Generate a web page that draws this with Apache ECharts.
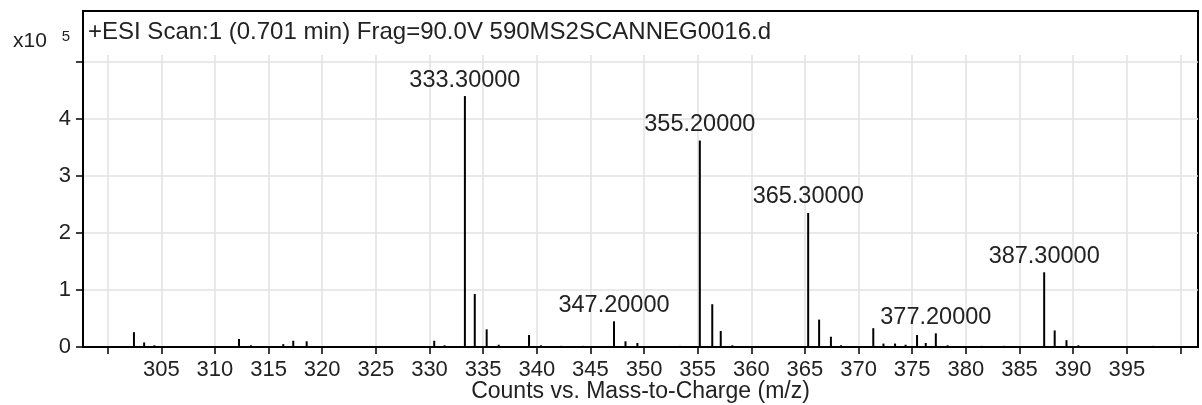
<!DOCTYPE html>
<html>
<head>
<meta charset="utf-8">
<script src="https://cdn.jsdelivr.net/npm/echarts@6/dist/echarts.min.js"></script>
<style>html,body{margin:0;padding:0;background:#fff;}#c{width:1202px;height:405px;}</style>
</head>
<body>
<div id="c"></div>
<script>
// ---- data (intensity in units of 10^5 counts) ----
const mzValues = [302.45, 303.4, 304.35, 312.24, 313.36, 316.37, 317.3, 318.55, 330.44, 331.4,
  333.3, 334.22, 335.33, 336.45, 339.28, 340.4, 342.28, 344.32, 347.2, 348.27,
  349.38, 353.35, 355.2, 356.36, 357.15, 358.23, 365.3, 366.32, 367.42, 368.36,
  371.37, 372.32, 373.4, 374.38, 375.45, 376.26, 377.2, 378.3, 381.48, 383.53,
  387.3, 388.28, 389.38, 390.49, 397.47];
const intensities = [0.26, 0.08, 0.03, 0.14, 0.03, 0.05, 0.11, 0.10, 0.11, 0.03,
  4.40, 0.93, 0.31, 0.04, 0.21, 0.03, 0.02, 0.02, 0.45, 0.10,
  0.07, 0.02, 3.62, 0.75, 0.28, 0.03, 2.35, 0.48, 0.18, 0.03,
  0.33, 0.06, 0.06, 0.04, 0.21, 0.07, 0.24, 0.03, 0.02, 0.02,
  1.31, 0.29, 0.12, 0.03, 0.02];
const labeledPeaks = [333.3, 347.2, 355.2, 365.3, 377.2, 387.3];
const xTickValues = [300, 305, 310, 315, 320, 325, 330, 335, 340, 345, 350, 355, 360, 365, 370, 375, 380, 385, 390, 395, 400];
const xLabelValues = [305, 310, 315, 320, 325, 330, 335, 340, 345, 350, 355, 360, 365, 370, 375, 380, 385, 390, 395];
const yTickValues = [0, 1, 2, 3, 4, 5];
const yLabelValues = [0, 1, 2, 3, 4];
const titleText = '+ESI Scan:1 (0.701 min) Frag=90.0V 590MS2SCANNEG0016.d';
const xAxisTitle = 'Counts vs. Mass-to-Charge (m/z)';

const FONT = 'Liberation Sans';
const TXT = '#222';

const seriesData = mzValues.map((m, i) => {
  const item = { value: [m, intensities[i]] };
  if (labeledPeaks.indexOf(m) >= 0) item.label = { show: true };
  return item;
});

const chart = echarts.init(document.getElementById('c'), null, { renderer: 'canvas' });
chart.setOption({
  animation: false,
  backgroundColor: '#fff',
  textStyle: { fontFamily: FONT },
  title: [
    { text: titleText, left: 88, top: 20, padding: 0,
      textStyle: { fontFamily: FONT, fontSize: 24, fontWeight: 'normal', color: TXT } },
    { text: '{a|x10}{b|5}', left: 13, top: 29, padding: 0,
      textStyle: { fontWeight: 'normal', rich: {
        a: { fontFamily: FONT, fontSize: 21, fontWeight: 'normal', color: TXT },
        b: { fontFamily: FONT, fontSize: 15, fontWeight: 'normal', color: TXT, padding: [0, 0, 10, 15] }
      } } }
  ],
  grid: [
    { left: 83, right: 4, top: 55, bottom: 58, show: false, containLabel: false, outerBoundsMode: 'none' },
    { left: 83, right: 4, top: 11, bottom: 58, show: true, containLabel: false, outerBoundsMode: 'none',
      borderColor: '#000', borderWidth: 2, backgroundColor: 'transparent' }
  ],
  xAxis: [
    {
      type: 'value', gridIndex: 0, min: 297.7, max: 401.64,
      axisLine: { show: true, onZero: false, lineStyle: { color: '#000', width: 2 } },
      axisTick: { show: true, customValues: xTickValues, length: 7, lineStyle: { color: '#000', width: 1.5 } },
      axisLabel: { customValues: xLabelValues, margin: 12, fontSize: 22, color: TXT, fontFamily: FONT },
      splitLine: { show: true, lineStyle: { color: '#e2e2e2', width: 1.5 } },
      name: xAxisTitle, nameLocation: 'middle', nameGap: 33, nameMoveOverlap: false,
      nameTextStyle: { fontSize: 23, color: TXT, fontFamily: FONT }
    },
    { type: 'value', gridIndex: 1, show: false, min: 0, max: 1, splitLine: { show: false } }
  ],
  yAxis: [
    {
      type: 'value', gridIndex: 0, min: 0, max: 5.12,
      axisLine: { show: true, lineStyle: { color: '#000', width: 2 } },
      axisTick: { show: true, customValues: yTickValues, length: 7, lineStyle: { color: '#000', width: 1.5 } },
      axisLabel: { customValues: yLabelValues, margin: 12, fontSize: 22, color: TXT, fontFamily: FONT },
      splitLine: { show: true, lineStyle: { color: '#e2e2e2', width: 1.5 } }
    },
    { type: 'value', gridIndex: 1, show: false, min: 0, max: 1, splitLine: { show: false } }
  ],
  series: [{
    type: 'bar', xAxisIndex: 0, yAxisIndex: 0,
    barWidth: 2,
    itemStyle: { color: '#000' },
    label: { show: false, position: 'top', distance: 4, fontSize: 23.5, color: TXT, fontFamily: FONT,
      formatter: p => p.value[0].toFixed(5) },
    data: seriesData
  }]
});
</script>
</body>
</html>
